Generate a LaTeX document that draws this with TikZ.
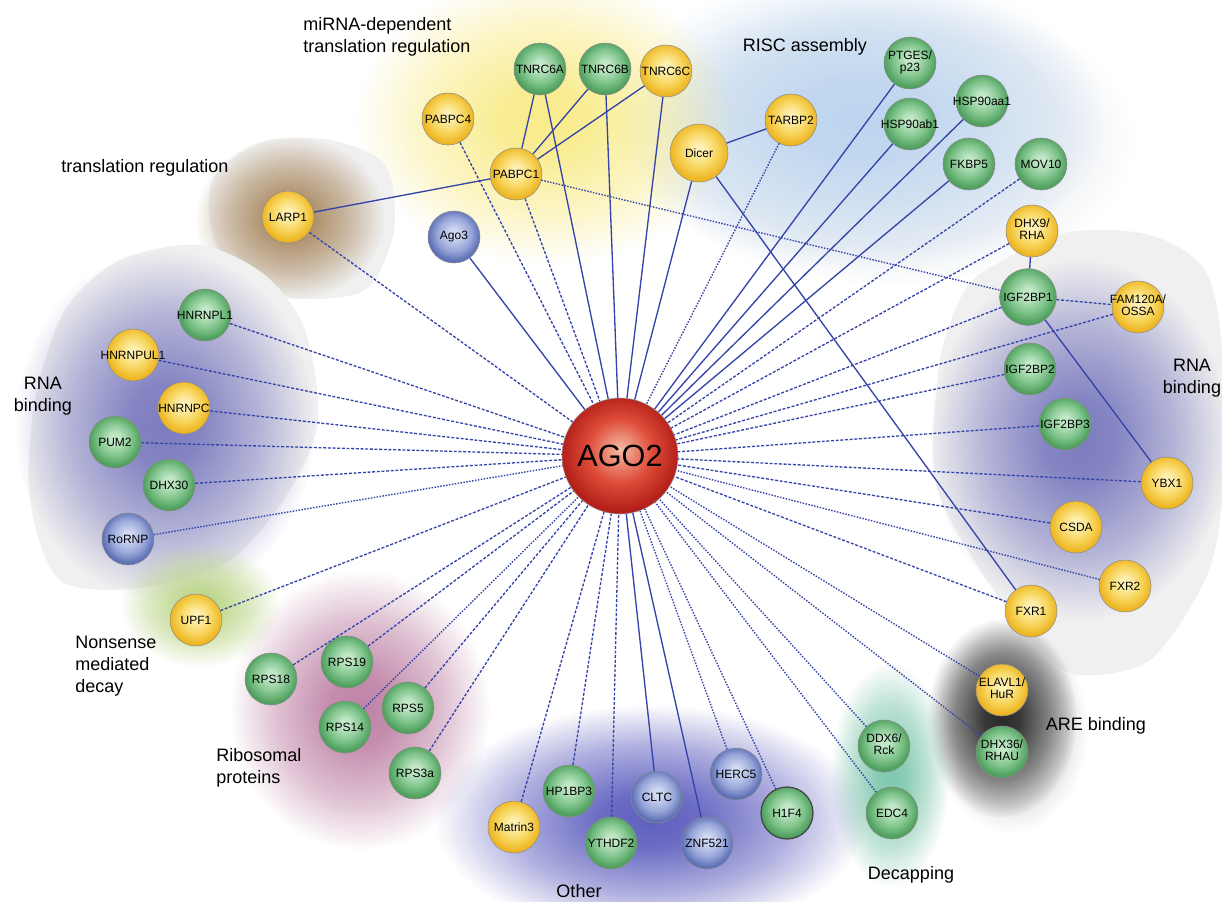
\documentclass[tikz,border=0pt]{standalone}
\usepackage{fontspec}
\setmainfont{Liberation Sans}
\usetikzlibrary{fadings}
\definecolor{edgeblue}{HTML}{3444A8}
\definecolor{yIn}{HTML}{FDF0B2}
\definecolor{yMid}{HTML}{F7D45A}
\definecolor{yOut}{HTML}{EDB522}
\definecolor{gIn}{HTML}{C2E8C8}
\definecolor{gMid}{HTML}{80C48C}
\definecolor{gOut}{HTML}{4E9F5D}
\definecolor{bIn}{HTML}{D0D8F2}
\definecolor{bMid}{HTML}{9AA8DA}
\definecolor{bOut}{HTML}{5C6FB5}
\definecolor{rIn}{HTML}{F6BCA4}
\definecolor{rMid}{HTML}{DE4B38}
\definecolor{rOut}{HTML}{B42019}
\definecolor{grayblob}{HTML}{F0F0F0}
\definecolor{riscGray}{HTML}{EEF1F5}
\definecolor{riscBlue}{HTML}{BDD5EF}
\definecolor{mirYel}{HTML}{F9EC8C}
\definecolor{larpBrown}{HTML}{A8875E}
\definecolor{rnaPurple}{HTML}{7C7CC0}
\definecolor{nmdGreen}{HTML}{BCD689}
\definecolor{riboPink}{HTML}{BF83A6}
\definecolor{areGray}{HTML}{E6E6E6}
\definecolor{areDark}{HTML}{2A2A2A}
\definecolor{decTeal}{HTML}{80C8AE}
\definecolor{othPurple}{HTML}{6060C0}
\pgfdeclareradialshading{yshade}{\pgfpoint{0bp}{4bp}}{color(0bp)=(yIn); color(4bp)=(yIn); color(16bp)=(yMid); color(25bp)=(yOut); color(50bp)=(yOut)}
\pgfdeclareradialshading{gshade}{\pgfpoint{0bp}{4bp}}{color(0bp)=(gIn); color(4bp)=(gIn); color(16bp)=(gMid); color(25bp)=(gOut); color(50bp)=(gOut)}
\pgfdeclareradialshading{bshade}{\pgfpoint{0bp}{4bp}}{color(0bp)=(bIn); color(4bp)=(bIn); color(16bp)=(bMid); color(25bp)=(bOut); color(50bp)=(bOut)}
\pgfdeclareradialshading{rshade}{\pgfpoint{0bp}{3bp}}{color(0bp)=(rIn); color(14bp)=(rMid); color(25bp)=(rOut); color(50bp)=(rOut)}
\pgfdeclareradialshading{softfadeshade}{\pgfpointorigin}{color(0bp)=(pgftransparent!0); color(6bp)=(pgftransparent!8); color(16bp)=(pgftransparent!50); color(25bp)=(pgftransparent!100); color(50bp)=(pgftransparent!100)}
\pgfdeclarefading{softfade}{\pgfuseshading{softfadeshade}}
\pgfdeclareradialshading{flatfadeshade}{\pgfpointorigin}{color(0bp)=(pgftransparent!0); color(18bp)=(pgftransparent!0); color(25bp)=(pgftransparent!100); color(50bp)=(pgftransparent!100)}
\pgfdeclarefading{flatfade}{\pgfuseshading{flatfadeshade}}
\newcommand{\onel}[1]{\makebox[0pt][c]{#1}}
\newcommand{\twol}[2]{\makebox[0pt][c]{\renewcommand{\arraystretch}{0.9}\begin{tabular}{@{}c@{}}#1\\#2\end{tabular}}}
\begin{document}
\begin{tikzpicture}[x=0.75pt,y=-0.75pt,
  prot/.style={circle, minimum size=39pt, inner sep=0pt, draw=black!45, line width=0.4pt,
    font=\fontsize{9}{10.5}\selectfont},
  yel/.style={prot, shading=yshade},
  grn/.style={prot, shading=gshade},
  blu/.style={prot, shading=bshade},
  solidE/.style={draw=edgeblue, line width=1pt},
  dashE/.style={draw=edgeblue, line width=1pt, dash pattern=on 2.2pt off 1.3pt},
  dotE/.style={draw=edgeblue, line width=1.05pt, dash pattern=on 1.1pt off 1.1pt},
  grp/.style={font=\fontsize{13.5}{16.5}\selectfont, inner sep=0pt},
  soft/.style={path fading=softfade},
  flat/.style={path fading=flatfade}]
\useasboundingbox (0,0) rectangle (1222,901);
\fill[white] (0,0) rectangle (1222,901);

% ---- group backgrounds ----
\fill[riscGray, flat] (885,140) ellipse (250 and 145);
\fill[riscBlue, soft] (860,120) ellipse (245 and 150);
\fill[mirYel, soft] (545,120) ellipse (190 and 145);
\fill[grayblob] plot[smooth cycle] coordinates {(215,175) (262,142) (330,140) (385,165) (394,230) (365,290) (290,298) (232,272) (210,222)};
\fill[larpBrown, soft] (290,218) ellipse (95 and 82);
\fill[grayblob] plot[smooth cycle] coordinates {(120,260) (200,245) (265,275) (305,330) (318,420) (290,490) (230,560) (140,588) (60,580) (30,500) (35,400) (65,310)};
\fill[rnaPurple, soft] (165,425) ellipse (150 and 175);
\fill[nmdGreen, soft] (200,605) ellipse (80 and 62);
\fill[riboPink, soft] (360,710) ellipse (130 and 140);
\fill[grayblob] plot[smooth cycle] coordinates {(1000,262) (1070,232) (1150,235) (1205,270) (1222,350) (1222,500) (1205,580) (1150,660) (1080,675) (1040,650) (980,570) (935,480) (940,360) (965,290)};
\fill[rnaPurple, soft] (1080,440) ellipse (150 and 180);
\fill[areGray, flat] (1010,728) ellipse (78 and 105);
\fill[areDark, soft] (1002,718) ellipse (75 and 100);
\fill[decTeal, soft] (890,775) ellipse (60 and 112);
\fill[othPurple, soft] (650,820) ellipse (215 and 115);

% ---- nodes ----
\node[prot, minimum size=87pt, shading=rshade, draw=black!40, font=\fontsize{23}{25}\selectfont] (AGO2) at (620,456) {AGO2};
\node[grn] (TNRC6A) at (540,69) {\onel{TNRC6A}};
\node[grn] (TNRC6B) at (605,69) {\onel{TNRC6B}};
\node[yel] (TNRC6C) at (666,71) {\onel{TNRC6C}};
\node[yel] (PABPC4) at (448,119) {\onel{PABPC4}};
\node[yel] (PABPC1) at (516,174) {\onel{PABPC1}};
\node[blu] (Ago3) at (454,237) {\onel{Ago3}};
\node[yel, minimum size=43.5pt] (Dicer) at (699,153) {\onel{Dicer}};
\node[yel] (TARBP2) at (791,120) {\onel{TARBP2}};
\node[grn] (PTGES) at (910,63) {\twol{PTGES/}{p23}};
\node[grn] (HSP90ab1) at (910,124) {\onel{HSP90ab1}};
\node[grn] (HSP90aa1) at (982,101) {\onel{HSP90aa1}};
\node[grn] (FKBP5) at (969,164) {\onel{FKBP5}};
\node[grn] (MOV10) at (1041,164) {\onel{MOV10}};
\node[yel] (DHX9) at (1032,231) {\twol{DHX9/}{RHA}};
\node[grn, minimum size=42.5pt] (IGF2BP1) at (1028,297) {\onel{IGF2BP1}};
\node[yel] (FAM120A) at (1138,307) {\twol{FAM120A/}{OSSA}};
\node[grn] (IGF2BP2) at (1030,369) {\onel{IGF2BP2}};
\node[grn] (IGF2BP3) at (1065,424) {\onel{IGF2BP3}};
\node[yel] (YBX1) at (1167,483) {\onel{YBX1}};
\node[yel] (CSDA) at (1076,527) {\onel{CSDA}};
\node[yel] (FXR2) at (1125,586) {\onel{FXR2}};
\node[yel] (FXR1) at (1031,611) {\onel{FXR1}};
\node[yel] (ELAVL1) at (1002,690) {\twol{ELAVL1/}{HuR}};
\node[grn] (DHX36) at (1002,752) {\twol{DHX36/}{RHAU}};
\node[grn] (DDX6) at (884,746) {\twol{DDX6/}{Rck}};
\node[grn] (EDC4) at (892,813) {\onel{EDC4}};
\node[grn, draw=black!75, line width=0.9pt] (H1F4) at (787,813) {\onel{H1F4}};
\node[blu] (HERC5) at (736,774) {\onel{HERC5}};
\node[blu] (ZNF521) at (707,843) {\onel{ZNF521}};
\node[blu] (CLTC) at (657,797) {\onel{CLTC}};
\node[grn] (YTHDF2) at (611,843) {\onel{YTHDF2}};
\node[grn] (HP1BP3) at (569,791) {\onel{HP1BP3}};
\node[yel] (Matrin3) at (514,827) {\onel{Matrin3}};
\node[grn] (RPS3a) at (415,773) {\onel{RPS3a}};
\node[grn] (RPS5) at (408,708) {\onel{RPS5}};
\node[grn] (RPS14) at (345,727) {\onel{RPS14}};
\node[grn] (RPS19) at (347,662) {\onel{RPS19}};
\node[grn] (RPS18) at (271,679) {\onel{RPS18}};
\node[yel] (UPF1) at (196,620) {\onel{UPF1}};
\node[blu] (RoRNP) at (128,539) {\onel{RoRNP}};
\node[grn] (DHX30) at (169,485) {\onel{DHX30}};
\node[grn] (PUM2) at (115,442) {\onel{PUM2}};
\node[yel] (HNRNPC) at (184,408) {\onel{HNRNPC}};
\node[yel] (HNRNPUL1) at (133,355) {\onel{HNRNPUL1}};
\node[grn] (HNRNPL1) at (205,315) {\onel{HNRNPL1}};
\node[yel] (LARP1) at (288,217) {\onel{LARP1}};

% ---- edges ----
\foreach \n in {TNRC6A,TNRC6B,TNRC6C,Ago3,Dicer,PTGES,HSP90ab1,HSP90aa1,FKBP5,CLTC,ZNF521}
  \draw[solidE] (\n) -- (AGO2);
\foreach \n in {LARP1,PABPC4,PABPC1,MOV10,DHX9,IGF2BP1,FAM120A,IGF2BP2,IGF2BP3,YBX1,CSDA,FXR1,YTHDF2,HP1BP3,Matrin3,RPS3a,RPS5,RPS19,RPS18,UPF1,DHX30,PUM2,HNRNPC,HNRNPUL1,HNRNPL1}
  \draw[dashE] (\n) -- (AGO2);
\foreach \n in {TARBP2,FXR2,ELAVL1,DHX36,DDX6,EDC4,H1F4,HERC5,RPS14,RoRNP}
  \draw[dotE] (\n) -- (AGO2);
\draw[solidE] (LARP1) -- (PABPC1);
\draw[solidE] (PABPC1) -- (TNRC6A);
\draw[solidE] (PABPC1) -- (TNRC6B);
\draw[solidE] (PABPC1) -- (TNRC6C);
\draw[dotE] (PABPC1) -- (IGF2BP1);
\draw[solidE] (Dicer) -- (TARBP2);
\draw[solidE] (Dicer) -- (FXR1);
\draw[solidE] (DHX9) -- (IGF2BP1);
\draw[dashE] (IGF2BP1) -- (FAM120A);
\draw[solidE] (IGF2BP1) -- (YBX1);

% ---- group labels ----
\node[grp, align=left, anchor=west] (lmirna) at (303,36.5) {miRNA-dependent\\translation regulation};
\node[grp] (lrisc) at (805,47) {RISC assembly};
\node[grp] (ltrans) at (145,168) {translation regulation};
\node[grp, align=center] (lrnaL) at (43,396) {RNA\\binding};
\node[grp, align=left, anchor=west] (lnmd) at (75,666) {Nonsense\\mediated\\decay};
\node[grp, align=left, anchor=west] (lribo) at (216,768) {Ribosomal\\proteins};
\node[grp] (lother) at (579,891) {Other};
\node[grp] (ldecap) at (911,875) {Decapping};
\node[grp] (lare) at (1096,726) {ARE binding};
\node[grp, align=center] (lrnaR) at (1192,378) {RNA\\binding};
\end{tikzpicture}
\end{document}
